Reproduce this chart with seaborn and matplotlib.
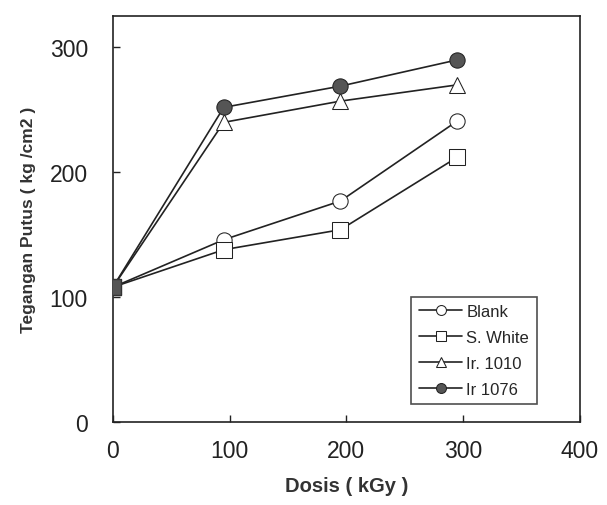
import pandas as pd
import matplotlib
matplotlib.use("Agg")
import matplotlib.pyplot as plt
import seaborn as sns

dosis = [0, 95, 195, 295]
blank = [108, 146, 177, 241]
s_white = [108, 138, 154, 212]
ir_1010 = [108, 240, 257, 270]
ir_1076 = [108, 252, 269, 290]
series_names = ["Blank", "S. White", "Ir. 1010", "Ir 1076"]

rows = []
for name, vals in zip(series_names, [blank, s_white, ir_1010, ir_1076]):
    for d, v in zip(dosis, vals):
        rows.append({"dosis": d, "nilai": v, "seri": name})
df = pd.DataFrame(rows)

sns.set_style("ticks")
plt.rcParams['font.family'] = ['Liberation Sans', 'DejaVu Sans']

fig = plt.figure(figsize=(6.07, 5.06), dpi=100)
ax = fig.add_axes([0.186, 0.164, 0.769, 0.802])

styles = {
    "Blank": dict(marker="o", mfc="white"),
    "S. White": dict(marker="s", mfc="white"),
    "Ir. 1010": dict(marker="^", mfc="white"),
    "Ir 1076": dict(marker="o", mfc="#555555"),
}
for name in series_names:
    sub = df[df["seri"] == name]
    sns.lineplot(data=sub, x="dosis", y="nilai", ax=ax, color="#222222",
                 linewidth=1.2, markersize=11, markeredgecolor="#222222",
                 label=name, **styles[name])

# titik awal tampak sebagai kotak gelap
ax.plot([dosis[0]], [blank[0]], marker="s", ms=11, color="#555555",
        mec="#333333", zorder=5)

ax.set_xlim(0, 400)
ax.set_ylim(0, 325)
ax.set_xticks([0, 100, 200, 300, 400])
ax.set_yticks([0, 100, 200, 300])
ax.tick_params(direction="in", length=5, width=1, labelsize=16.5,
               colors="#222222")
ax.tick_params(axis="x", pad=12)
ax.tick_params(axis="y", pad=18)
for sp in ax.spines.values():
    sp.set_color("#222222")
    sp.set_linewidth(1.2)

ax.set_xlabel("Dosis ( kGy )", fontsize=14.5, fontweight="bold",
              color="#333333", labelpad=10)
ax.set_ylabel("Tegangan Putus ( kg /cm2 )", fontsize=12.5, fontweight="bold",
              color="#333333", labelpad=10)

leg = ax.legend(loc="lower right", bbox_to_anchor=(0.908, 0.044),
                fontsize=12, frameon=True, fancybox=False, edgecolor="#222222",
                handlelength=2.6, markerscale=0.65, borderpad=0.45,
                labelspacing=0.65, handletextpad=0.25, borderaxespad=0)
leg.get_frame().set_linewidth(1.2)

fig.savefig("out.png", dpi=100)
